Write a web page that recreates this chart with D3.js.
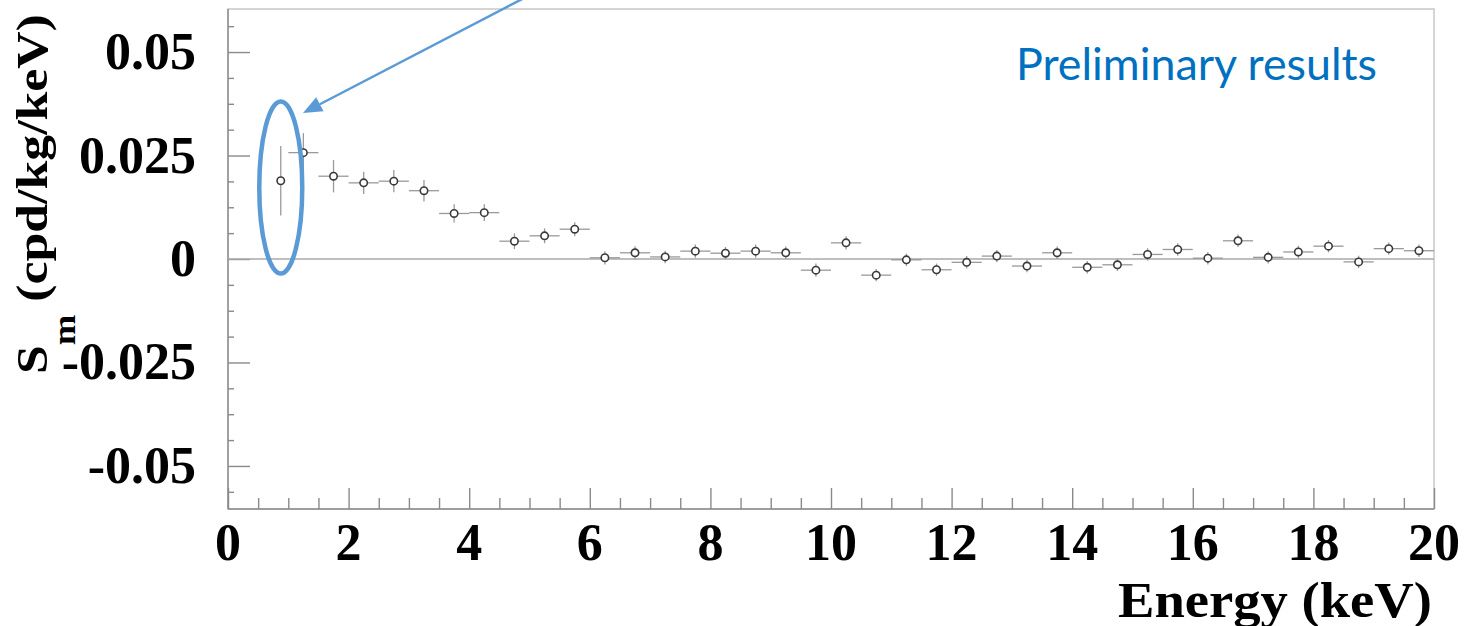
<!DOCTYPE html>
<html lang="en">
<head>
    <meta charset="UTF-8">
    <script src="https://d3js.org/d3.v7.min.js"></script>
    <style>
        body { margin: 0; background: #fff; }
    </style>
</head>
<body>
<div id="chart"></div>
<script>
    // bin centres (keV), half widths, modulation amplitude and its error
    var energy = [0.875, 1.25, 1.75, 2.25, 2.75, 3.25, 3.75, 4.25, 4.75, 5.25, 5.75,
                  6.25, 6.75, 7.25, 7.75, 8.25, 8.75, 9.25, 9.75, 10.25, 10.75,
                  11.25, 11.75, 12.25, 12.75, 13.25, 13.75, 14.25, 14.75, 15.25, 15.75,
                  16.25, 16.75, 17.25, 17.75, 18.25, 18.75, 19.25, 19.75];
    var halfWidth = [0.06, 0.25, 0.25, 0.25, 0.25, 0.25, 0.25, 0.25, 0.25, 0.25, 0.25,
                     0.25, 0.25, 0.25, 0.25, 0.25, 0.25, 0.25, 0.25, 0.25, 0.25,
                     0.25, 0.25, 0.25, 0.25, 0.25, 0.25, 0.25, 0.25, 0.25, 0.25,
                     0.25, 0.25, 0.25, 0.25, 0.25, 0.25, 0.25, 0.25];
    var sm = [0.0189, 0.0257, 0.0200, 0.0184, 0.0188, 0.0165, 0.0110, 0.0112, 0.0043, 0.0056, 0.0072,
              0.0003, 0.0015, 0.0005, 0.0019, 0.0014, 0.0019, 0.0015, -0.0027, 0.0039, -0.0039,
              -0.0002, -0.0026, -0.0008, 0.0007, -0.0017, 0.0015, -0.0020, -0.0014, 0.0011, 0.0023,
              0.0002, 0.0044, 0.0004, 0.0017, 0.0031, -0.0007, 0.0025, 0.0020];
    var smErr = [0.0084, 0.0047, 0.0039, 0.0027, 0.0027, 0.0026, 0.0022, 0.0020, 0.0019, 0.0018, 0.0017,
                 0.0016, 0.0016, 0.0015, 0.0016, 0.0015, 0.0016, 0.0015, 0.0016, 0.0016, 0.0015,
                 0.0015, 0.0015, 0.0015, 0.0015, 0.0015, 0.0015, 0.0015, 0.0015, 0.0015, 0.0015,
                 0.0015, 0.0015, 0.0015, 0.0015, 0.0015, 0.0015, 0.0015, 0.0015];
    var xTicks = [0, 2, 4, 6, 8, 10, 12, 14, 16, 18, 20];
    var yTicks = [-0.05, -0.025, 0, 0.025, 0.05];
    var yTickLabels = ["-0.05", "-0.025", "0", "0.025", "0.05"];

    var W = 1468, H = 626;
    var frame = {left: 228, right: 1434, top: 9, bottom: 509};

    var x = d3.scaleLinear().domain([0, 20]).range([frame.left, frame.right]);
    var y = d3.scaleLinear().domain([-0.0604, 0.0604]).range([frame.bottom, frame.top]);

    var svg = d3.select("#chart").append("svg")
        .attr("width", W).attr("height", H);

    var serif = "'Liberation Serif', 'Times New Roman', serif";

    // frame
    svg.append("rect")
        .attr("x", frame.left).attr("y", frame.top)
        .attr("width", frame.right - frame.left).attr("height", frame.bottom - frame.top)
        .attr("fill", "none").attr("stroke", "#c8c8c8").attr("stroke-width", 1.5);

    // x axis: major + minor ticks growing upward
    var xAxis = d3.axisBottom(x).tickValues(d3.range(0, 20.01, 0.5))
        .tickSize(-11).tickFormat("");
    var gx = svg.append("g").attr("transform", "translate(0," + frame.bottom + ")").call(xAxis);
    gx.selectAll(".tick line")
        .attr("y2", function(d) { return Math.abs(d % 2) < 1e-6 ? -21 : -11; });
    gx.selectAll("line, path").attr("stroke", "#8a8a8a").attr("stroke-width", 1.4);
    gx.select(".domain").attr("d", "M" + frame.left + ",0H" + frame.right);

    svg.append("g").selectAll("text").data(xTicks).join("text")
        .attr("x", function(d) { return x(d); })
        .attr("y", frame.bottom + 51)
        .attr("text-anchor", "middle")
        .attr("font-family", serif).attr("font-weight", "bold")
        .attr("font-size", 52).attr("fill", "#000")
        .text(function(d) { return d; });

    // y axis: ticks growing to the right
    var yMinor = d3.range(-9, 10).map(function(i) { return i * 0.00625; });
    var yAxis = d3.axisLeft(y).tickValues(yMinor).tickSize(-6).tickFormat("");
    var gy = svg.append("g").attr("transform", "translate(" + frame.left + ",0)").call(yAxis);
    gy.selectAll(".tick line")
        .attr("x2", function(d) { return Math.abs(d / 0.025 - Math.round(d / 0.025)) < 1e-6 ? 22 : 6; });
    gy.selectAll("line, path").attr("stroke", "#8a8a8a").attr("stroke-width", 1.4);
    gy.select(".domain").attr("d", "M0," + frame.top + "V" + frame.bottom);

    svg.append("g").selectAll("text").data(yTicks).join("text")
        .attr("x", 196)
        .attr("y", function(d) { return y(d) + 17; })
        .attr("text-anchor", "end")
        .attr("font-family", serif).attr("font-weight", "bold")
        .attr("font-size", 52).attr("fill", "#000")
        .text(function(d, i) { return yTickLabels[i]; });

    // zero line
    svg.append("line")
        .attr("x1", x(0)).attr("x2", x(20))
        .attr("y1", y(0)).attr("y2", y(0))
        .attr("stroke", "#a8a8a8").attr("stroke-width", 1.5);

    // data
    var data = energy.map(function(e, i) {
        return {e: e, hw: halfWidth[i], v: sm[i], err: smErr[i]};
    });

    var pts = svg.append("g");
    pts.selectAll(".xerr").data(data).join("line")
        .attr("x1", function(d) { return x(d.e - d.hw); })
        .attr("x2", function(d) { return x(d.e + d.hw); })
        .attr("y1", function(d) { return y(d.v); })
        .attr("y2", function(d) { return y(d.v); })
        .attr("stroke", "#9a9a9a").attr("stroke-width", 1.3);
    pts.selectAll(".yerr").data(data).join("line")
        .attr("x1", function(d) { return x(d.e); })
        .attr("x2", function(d) { return x(d.e); })
        .attr("y1", function(d) { return y(d.v - d.err); })
        .attr("y2", function(d) { return y(d.v + d.err); })
        .attr("stroke", "#9a9a9a").attr("stroke-width", 1.3);
    pts.selectAll("circle").data(data).join("circle")
        .attr("cx", function(d) { return x(d.e); })
        .attr("cy", function(d) { return y(d.v); })
        .attr("r", 3.7)
        .attr("fill", "#fff").attr("stroke", "#3a3a3a").attr("stroke-width", 1.6);

    // axis titles
    svg.append("text")
        .attr("x", 1118).attr("y", 617)
        .attr("font-family", serif).attr("font-weight", "bold")
        .attr("font-size", 51).attr("fill", "#000")
        .attr("textLength", 314).attr("lengthAdjust", "spacingAndGlyphs")
        .text("Energy (keV)");

    var yt = svg.append("text")
        .attr("transform", "translate(47,374) rotate(-90) scale(1.15,1)")
        .attr("font-family", serif).attr("font-weight", "bold")
        .attr("font-size", 45).attr("fill", "#000");
    yt.append("tspan").text("S");
    yt.append("tspan").attr("dy", 28).attr("font-size", 32).text("m");
    yt.append("tspan").attr("dy", -28).text(" (cpd/kg/keV)");

    // annotations
    var blue = "#5b9bd5";
    svg.append("ellipse")
        .attr("cx", x(0.875)).attr("cy", 187.5)
        .attr("rx", 21.5).attr("ry", 86)
        .attr("fill", "none").attr("stroke", blue).attr("stroke-width", 4.5);

    var tip = [303, 113], tail = [528, -4];
    var ang = Math.atan2(tip[1] - tail[1], tip[0] - tail[0]);
    var hl = 19, hw = 8;
    var bx = tip[0] - hl * Math.cos(ang), by = tip[1] - hl * Math.sin(ang);
    svg.append("line")
        .attr("x1", tail[0]).attr("y1", tail[1]).attr("x2", bx).attr("y2", by)
        .attr("stroke", blue).attr("stroke-width", 2.5);
    svg.append("polygon")
        .attr("points", [
            tip,
            [bx + hw * Math.sin(ang), by - hw * Math.cos(ang)],
            [bx - hw * Math.sin(ang), by + hw * Math.cos(ang)]
        ].map(function(p) { return p.join(","); }).join(" "))
        .attr("fill", blue);

    svg.append("text")
        .attr("x", 1016).attr("y", 80)
        .attr("font-family", "Lato, 'Open Sans', sans-serif")
        .attr("font-size", 44).attr("fill", "#0070c0")
        .attr("textLength", 361).attr("lengthAdjust", "spacingAndGlyphs")
        .text("Preliminary results");
</script>
</body>
</html>
